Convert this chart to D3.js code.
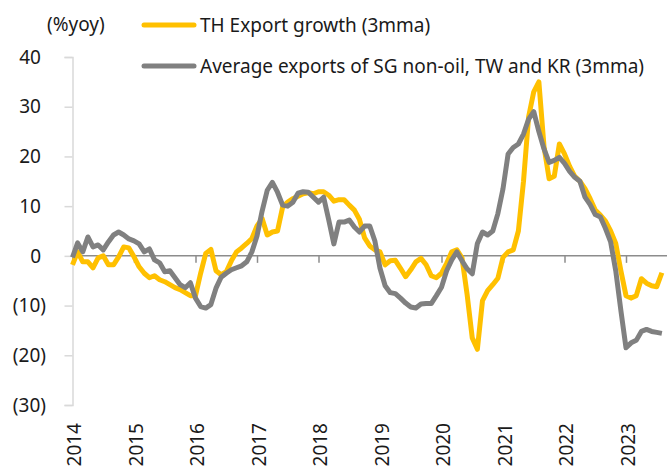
<!DOCTYPE html>
<html>
<head>
<meta charset="utf-8">
<script src="https://cdn.jsdelivr.net/npm/d3@7"></script>
<style>
  html, body { margin: 0; padding: 0; background: #fff; }
  svg { display: block; }
</style>
</head>
<body>
<svg id="chart" width="667" height="466"></svg>
<script>
// monthly data, Jan 2014 - Aug 2023 (%yoy, 3mma)
const startYear = 2014
const years = [2014, 2015, 2016, 2017, 2018, 2019, 2020, 2021, 2022, 2023]
const yTicks = [40, 30, 20, 10, 0, -10, -20, -30]

const thExports = [
  -1.8, 0.8, -1.2, -1.2, -2.4, -0.4, 0.0, -1.8, -1.8, -0.2, 1.8, 1.6,
  -0.2, -2.2, -3.5, -4.4, -4.0, -4.8, -5.2, -5.8, -6.4, -6.8, -7.4, -8.0,
  -8.0, -3.5, 0.5, 1.3, -3.0, -3.8, -3.2, -1.0, 0.8, 1.6, 2.5, 3.5,
  6.0, 7.5, 4.2, 4.8, 5.0, 9.8, 10.8, 11.5, 12.0, 12.5, 12.7, 12.5,
  12.9, 12.9, 12.2, 11.0, 11.3, 11.3, 10.2, 9.2, 7.3, 3.6, 2.0, 1.2,
  0.8, -1.8, -1.0, -0.9, -2.5, -4.2, -2.8, -1.2, -0.5, -1.8, -4.0, -4.4,
  -3.5, -1.5, 0.8, 1.2, -0.4, -7.8, -16.5, -18.8, -9.0, -7.0, -5.8, -4.5,
  -0.3, 0.8, 1.2, 5.0, 15.0, 28.0, 33.0, 35.0, 22.0, 15.5, 16.0, 22.5,
  20.5, 18.0, 16.0, 15.0, 13.5, 11.5, 9.2, 8.2, 7.0, 5.0, 2.5, -3.0,
  -8.0, -8.5, -8.0, -4.6, -5.5, -6.0, -6.2, -3.4
]

const regionExports = [
  -0.3, 2.6, 0.8, 3.8, 1.8, 2.2, 1.2, 2.8, 4.2, 4.8, 4.2, 3.4,
  3.0, 2.4, 0.8, 1.4, -0.8, -1.4, -3.2, -3.0, -4.4, -5.8, -6.4, -5.4,
  -8.5, -10.2, -10.5, -9.8, -6.5, -4.3, -3.5, -2.8, -2.4, -2.0, -1.2, 0.8,
  4.0, 9.0, 13.2, 14.8, 12.8, 10.2, 10.0, 10.8, 12.6, 12.9, 12.8, 11.8,
  10.8, 11.8, 7.2, 2.4, 6.8, 6.8, 7.2, 5.8, 4.8, 6.0, 6.0, 3.0,
  -2.5, -6.0, -7.4, -7.6, -8.5, -9.5, -10.3, -10.5, -9.7, -9.6, -9.6, -8.0,
  -6.3, -3.0, -0.8, 0.8, -1.0, -2.6, -3.6, 2.5, 4.8, 4.2, 5.0, 8.5,
  13.5, 20.5, 21.8, 22.5, 24.5, 27.5, 29.0, 25.0, 21.5, 18.8, 19.2, 19.8,
  18.6, 17.0, 15.8, 15.0, 11.8, 10.3, 8.3, 7.8, 5.5, 2.8, -3.0, -11.0,
  -18.5, -17.5, -17.0, -15.2, -14.8, -15.2, -15.4, -15.6
]

const seriesNames = [
  'TH Export growth (3mma)',
  'Average exports of SG non-oil, TW and KR (3mma)'
]
const seriesColors = ['#FFC000', '#808080']

const font = '"Noto Sans", sans-serif'
const fontSize = 19
const svg = d3.select('#chart')

const x = d3.scaleLinear().domain([2014, 2023]).range([72.5, 626])
const y = d3.scaleLinear().domain([-30, 40]).range([405, 57])

const toPoints = (arr) => arr.map((v, i) => ({ t: startYear + i / 12, v: v }))

// y axis (left, light grey)
const yAxis = svg
  .append('g')
  .attr('transform', 'translate(' + x(2014) + ',0)')
  .call(d3.axisLeft(y).tickValues(yTicks).tickSize(8).tickFormat(''))
yAxis.select('.domain').attr('stroke', '#d9d9d9').attr('stroke-width', 1.5)
yAxis.selectAll('.tick line').attr('stroke', '#d9d9d9').attr('stroke-width', 1.5)

// y labels, negatives in brackets
svg
  .append('g')
  .selectAll('text')
  .data(yTicks)
  .join('text')
  .attr('x', (d) => (d < 0 ? 46 : 41))
  .attr('y', (d) => y(d))
  .attr('dy', '0.35em')
  .attr('text-anchor', 'end')
  .attr('font-family', font)
  .attr('font-size', fontSize)
  .attr('fill', '#1a1a1a')
  .text((d) => (d < 0 ? '(' + Math.abs(d) + ')' : d))

// zero axis with year ticks
const xAxis = svg
  .append('g')
  .attr('transform', 'translate(0,' + y(0) + ')')
  .call(
    d3.axisBottom(x).tickValues(years).tickSize(7).tickSizeOuter(0).tickFormat('')
  )
xAxis.select('.domain').attr('stroke', '#8c8c8c').attr('stroke-width', 1.5)
  .attr('d', 'M' + x(2014) + ',0H667')
xAxis.selectAll('.tick line').attr('stroke', '#8c8c8c').attr('stroke-width', 1.5)

// year labels, rotated at the bottom
svg
  .append('g')
  .selectAll('text')
  .data(years)
  .join('text')
  .attr('transform', (d) => 'translate(' + (x(d) + 2) + ',423) rotate(-90)')
  .attr('dy', '0.35em')
  .attr('text-anchor', 'end')
  .attr('font-family', font)
  .attr('font-size', fontSize)
  .attr('fill', '#1a1a1a')
  .text((d) => d)

// lines
const line = d3
  .line()
  .x((d) => x(d.t))
  .y((d) => y(d.v))

svg
  .append('g')
  .selectAll('path')
  .data([thExports, regionExports])
  .join('path')
  .attr('d', (d) => line(toPoints(d)))
  .attr('fill', 'none')
  .attr('stroke', (d, i) => seriesColors[i])
  .attr('stroke-width', 5)
  .attr('stroke-linejoin', 'round')

// y unit label
svg
  .append('text')
  .attr('x', 47)
  .attr('y', 24)
  .attr('dy', '0.35em')
  .attr('font-family', font)
  .attr('font-size', fontSize)
  .attr('fill', '#1a1a1a')
  .text('(%yoy)')

// legend
const legend = svg
  .append('g')
  .selectAll('g')
  .data(seriesNames)
  .join('g')
  .attr('transform', (d, i) => 'translate(0,' + (25 + i * 41) + ')')

legend
  .append('line')
  .attr('x1', 144)
  .attr('x2', 194)
  .attr('stroke', (d, i) => seriesColors[i])
  .attr('stroke-width', 5)
  .attr('stroke-linecap', 'round')

legend
  .append('text')
  .attr('x', 200)
  .attr('dy', '0.35em')
  .attr('font-family', font)
  .attr('font-size', fontSize)
  .attr('fill', '#1a1a1a')
  .text((d) => d)
</script>
</body>
</html>
